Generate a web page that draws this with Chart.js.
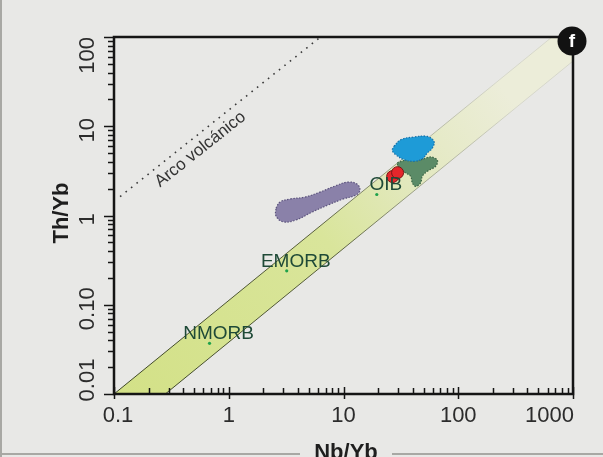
<!DOCTYPE html>
<html>
<head>
<meta charset="utf-8">
<script src="https://cdn.jsdelivr.net/npm/chart.js@4.4.0/dist/chart.umd.min.js"></script>
<style>
  body { margin: 0; background: #e8e8e6; }
  #wrap { position: relative; width: 603px; height: 457px; }
</style>
</head>
<body>
<div id="wrap"><canvas id="thNbChart"></canvas></div>
<script>
// axis ticks
var xTicks = [0.1, 1, 10, 100, 1000];
var xTickLabels = ["0.1", "1", "10", "100", "1000"];
var yTicks = [0.01, 0.1, 1, 10, 100];
var yTickLabels = ["0.01", "0.10", "1", "10", "100"];

// MORB-OIB array (band corners)
var bandNb = [0.1, 656, 1000, 1000, 0.28, 0.1];
var bandTh = [0.01, 100, 100, 53.8, 0.01, 0.01];

// volcanic arc line
var arcNb = [0.113, 6.3];
var arcTh = [1.63, 100];

// reference compositions
var refNames = ["NMORB", "EMORB", "OIB"];
var refNb = [0.68, 3.2, 19.5];
var refTh = [0.037, 0.24, 1.72];

// sample fields
var purpleNb = [2.58, 2.80, 3.42, 4.62, 6.24, 8.43, 10.9, 13.1, 13.9, 12.9, 9.91, 7.33, 5.31, 3.85, 2.97, 2.58];
var purpleTh = [1.21, 1.42, 1.53, 1.61, 1.83, 2.14, 2.37, 2.25, 1.93, 1.70, 1.53, 1.31, 1.09, 0.89, 0.85, 0.99];
var blueNb = [27.5, 31.5, 41.1, 53.8, 61.5, 59.5, 53.8, 48.6, 41.1, 33.6, 28.5, 26.6];
var blueTh = [5.94, 7.06, 7.57, 7.69, 6.76, 5.71, 5.02, 4.31, 4.05, 4.23, 4.81, 5.37];
var greenNb = [29.4, 36.0, 47.0, 57.5, 65.8, 63.6, 53.8, 48.6, 47.0, 42.6, 39.8, 38.5, 34.8, 30.4];
var greenTh = [3.88, 4.23, 4.23, 4.53, 4.15, 3.56, 3.13, 2.75, 2.32, 2.12, 2.32, 2.75, 3.00, 3.27];

// samples (red)
var sampleNb = [26.8, 29.6];
var sampleTh = [2.73, 3.02];

function pts(xs, ys, close) {
    var p = xs.map(function (v, i) { return { x: v, y: ys[i] }; });
    if (close) p.push({ x: xs[0], y: ys[0] });
    return p;
}

function bandGradient(ctx, stops) {
    var a = ctx.chart.chartArea;
    if (!a) return stops[0][1];
    var g = ctx.chart.ctx.createLinearGradient(a.left, a.bottom, a.right, a.top);
    stops.forEach(function (s) { g.addColorStop(s[0], s[1]); });
    return g;
}

var axesPlugin = {
    id: 'axes',
    afterDatasetsDraw: function (chart) {
        var ctx = chart.ctx, a = chart.chartArea;
        var xs = chart.scales.x, ys = chart.scales.y;
        ctx.save();

        // reference labels
        ctx.fillStyle = '#1f4a37';
        ctx.font = '19px "Liberation Sans", Arial, sans-serif';
        ctx.textAlign = 'center';
        ctx.textBaseline = 'alphabetic';
        refNames.forEach(function (n, i) {
            ctx.fillText(n, xs.getPixelForValue(refNb[i]) + 9, ys.getPixelForValue(refTh[i]) - 4);
        });

        // arc label along the dotted line
        var x0 = xs.getPixelForValue(arcNb[0]), y0 = ys.getPixelForValue(arcTh[0]);
        var x1 = xs.getPixelForValue(arcNb[1]), y1 = ys.getPixelForValue(arcTh[1]);
        var ang = Math.atan2(y1 - y0, x1 - x0);
        ctx.save();
        ctx.translate(xs.getPixelForValue(0.6), ys.getPixelForValue(5.0));
        ctx.rotate(ang);
        ctx.fillStyle = '#333';
        ctx.font = '17px "Liberation Sans", Arial, sans-serif';
        ctx.fillText('Arco volcánico', 0, 0);
        ctx.restore();

        // frame
        ctx.strokeStyle = '#151515';
        ctx.lineWidth = 2.5;
        ctx.strokeRect(a.left, a.top, a.right - a.left, a.bottom - a.top);

        // ticks
        ctx.lineWidth = 1.5;
        ctx.beginPath();
        for (var d = -1; d <= 3; d++) {
            for (var m = 1; m <= 9; m++) {
                var v = m * Math.pow(10, d);
                if (v > 1000) break;
                var px = Math.round(xs.getPixelForValue(v)) + 0.5;
                if (m === 1) { ctx.moveTo(px, a.bottom + 5); ctx.lineTo(px, a.bottom - 7); }
                else { ctx.moveTo(px, a.bottom); ctx.lineTo(px, a.bottom - 6); }
            }
        }
        for (var d2 = -2; d2 <= 2; d2++) {
            for (var m2 = 1; m2 <= 9; m2++) {
                var v2 = m2 * Math.pow(10, d2);
                if (v2 > 100) break;
                var py = Math.round(ys.getPixelForValue(v2)) + 0.5;
                if (m2 === 1) { ctx.moveTo(a.left - 10, py); ctx.lineTo(a.left, py); }
                else { ctx.moveTo(a.left - 6, py); ctx.lineTo(a.left, py); }
            }
        }
        ctx.stroke();

        // tick labels
        ctx.fillStyle = '#2c2c2c';
        ctx.font = '22px "Liberation Sans", Arial, sans-serif';
        ctx.textBaseline = 'middle';
        xTicks.forEach(function (v, i) {
            var px = xs.getPixelForValue(v);
            if (i === xTicks.length - 1) { ctx.textAlign = 'right'; px = a.right + 1; }
            else { ctx.textAlign = 'center'; if (i === 0) px += 4; }
            ctx.fillText(xTickLabels[i], px, a.bottom + 22);
        });
        yTicks.forEach(function (v, i) {
            var py = ys.getPixelForValue(v);
            ctx.save();
            ctx.translate(a.left - 26, py);
            ctx.rotate(-Math.PI / 2);
            if (i === yTicks.length - 1) { ctx.textAlign = 'right'; ctx.fillText(yTickLabels[i], 0, 0); }
            else if (i === 0) { ctx.textAlign = 'center'; ctx.fillText(yTickLabels[i], 14, 0); }
            else { ctx.textAlign = 'center'; ctx.fillText(yTickLabels[i], -4, 0); }
            ctx.restore();
        });

        // axis titles
        ctx.fillStyle = '#1e1e1e';
        ctx.font = 'bold 22px "Liberation Sans", Arial, sans-serif';
        ctx.textAlign = 'center';
        ctx.textBaseline = 'alphabetic';
        ctx.fillText('Nb/Yb', 346, 459);
        ctx.save();
        ctx.translate(68, 213);
        ctx.rotate(-Math.PI / 2);
        ctx.fillText('Th/Yb', 0, 0);
        ctx.restore();

        // panel badge
        ctx.fillStyle = '#121212';
        ctx.beginPath();
        ctx.arc(a.right - 1, a.top + 4, 14.5, 0, Math.PI * 2);
        ctx.fill();
        ctx.fillStyle = '#fff';
        ctx.font = 'bold 19px "Liberation Sans", Arial, sans-serif';
        ctx.textBaseline = 'middle';
        ctx.fillText('f', a.right - 1, a.top + 5);

        // page edges
        ctx.strokeStyle = '#a8a8a4';
        ctx.lineWidth = 2;
        ctx.beginPath();
        ctx.moveTo(1, 0); ctx.lineTo(1, 457);
        ctx.moveTo(0, 454); ctx.lineTo(300, 454);
        ctx.moveTo(392, 454); ctx.lineTo(603, 454);
        ctx.stroke();
        ctx.restore();
    }
};

new Chart(document.getElementById("thNbChart"), {
    type: 'scatter',
    data: {
        datasets: [
            {
                type: 'line',
                data: pts(bandNb, bandTh, false),
                fill: 'shape',
                backgroundColor: function (c) {
                    return bandGradient(c, [[0, '#d3e187'], [0.45, '#d9e59b'], [0.62, '#e2e8bd'], [0.85, '#ecedd9']]);
                },
                borderColor: function (c) {
                    return bandGradient(c, [[0, '#3c4524'], [0.45, '#59603c'], [0.65, '#a7ab92'], [0.85, '#d6d7ca']]);
                },
                borderWidth: 1,
                pointRadius: 0,
                tension: 0,
                order: 10
            },
            {
                type: 'line',
                data: pts(arcNb, arcTh, false),
                borderColor: '#3a3a3a',
                borderWidth: 1.6,
                borderDash: [1.6, 5.4],
                fill: false,
                pointRadius: 0,
                order: 9
            },
            {
                type: 'line',
                data: pts(purpleNb, purpleTh, true),
                fill: 'shape',
                backgroundColor: '#8a81a9',
                borderColor: '#5b537c',
                borderWidth: 1.2,
                borderDash: [1.5, 1.5],
                tension: 0.4,
                pointRadius: 0,
                order: 8
            },
            {
                type: 'line',
                data: pts(greenNb, greenTh, true),
                fill: 'shape',
                backgroundColor: '#5b8b67',
                borderColor: '#3b6545',
                borderWidth: 1.2,
                borderDash: [1.5, 1.5],
                tension: 0.35,
                pointRadius: 0,
                order: 7
            },
            {
                type: 'line',
                data: pts(blueNb, blueTh, true),
                fill: 'shape',
                backgroundColor: '#1e9bd7',
                borderColor: '#1670a8',
                borderWidth: 1.2,
                borderDash: [1.5, 1.5],
                tension: 0.4,
                pointRadius: 0,
                order: 6
            },
            {
                data: pts(refNb, refTh, false),
                backgroundColor: '#1fa24b',
                borderWidth: 0,
                pointRadius: 1.6,
                order: 5
            },
            {
                data: pts(sampleNb, sampleTh, false),
                backgroundColor: '#e4262b',
                borderColor: '#7c1515',
                borderWidth: 1,
                pointRadius: 6,
                order: 4
            }
        ]
    },
    options: {
        responsive: true,
        maintainAspectRatio: false,
        animation: false,
        layout: { padding: { left: 114, right: 30, top: 37, bottom: 63 } },
        scales: {
            x: { type: 'logarithmic', min: 0.1, max: 1000, display: false },
            y: { type: 'logarithmic', min: 0.01, max: 100, display: false }
        },
        plugins: {
            legend: { display: false },
            tooltip: { enabled: false }
        }
    },
    plugins: [axesPlugin]
});
</script>
</body>
</html>
